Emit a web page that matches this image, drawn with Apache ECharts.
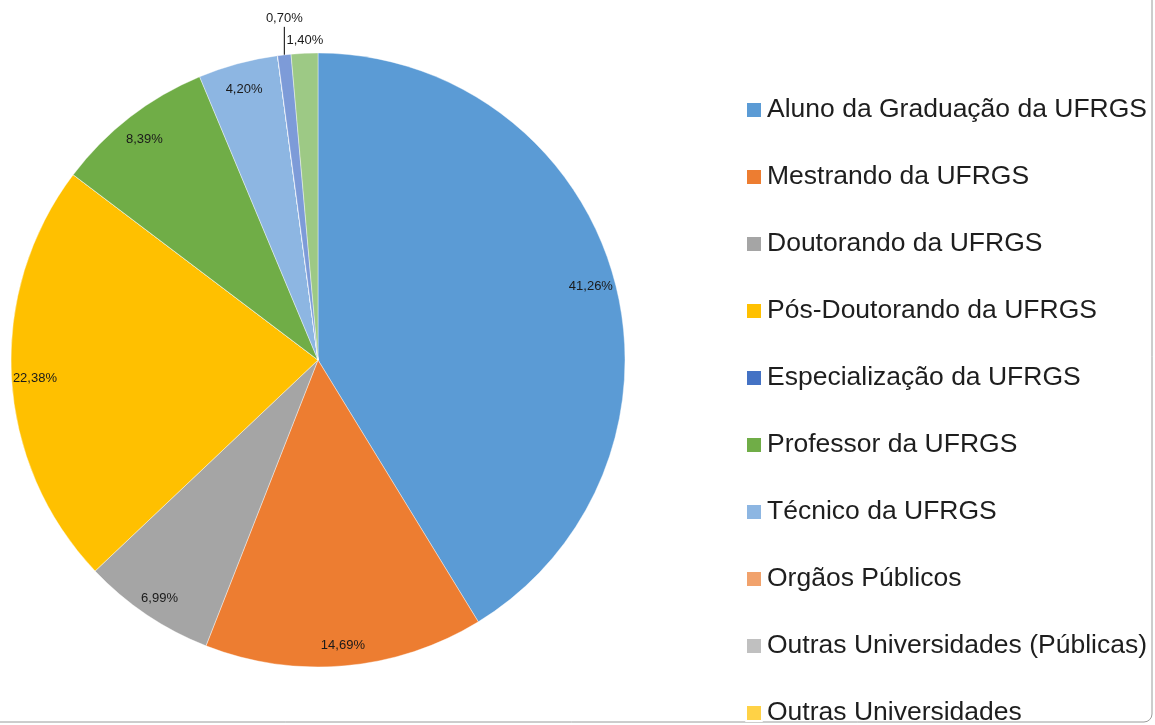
<!DOCTYPE html>
<html>
<head>
<meta charset="utf-8">
<script src="https://cdn.jsdelivr.net/npm/echarts@6/dist/echarts.min.js"></script>
<style>html,body{margin:0;padding:0;background:#fff;}#c{width:1155px;height:725px;}</style>
</head>
<body>
<div id="c"></div>
<script>
const categories = [
  'Aluno da Graduação da UFRGS',
  'Mestrando da UFRGS',
  'Doutorando da UFRGS',
  'Pós-Doutorando da UFRGS',
  'Especialização da UFRGS',
  'Professor da UFRGS',
  'Técnico da UFRGS',
  'Orgãos Públicos',
  'Outras Universidades (Públicas)',
  'Outras Universidades',
  'Outros',
  'Externos'
];
const values = [41.26, 14.69, 6.99, 22.38, 0, 8.39, 4.20, 0, 0, 0, 0.70, 1.40];
const colors = ['#5B9BD5','#ED7D31','#A5A5A5','#FFC000','#4472C4','#70AD47','#8DB6E2','#F1A26C','#C0C0C0','#FFD246','#7D9BD8','#9DC985'];
const legendVisible = categories.slice(0, 10);

const fmt = v => v.toFixed(2).replace('.', ',') + '%';

const pieData = categories.map((n, i) => ({ name: n, value: values[i], itemStyle: { color: colors[i] } }));
const labelData = categories.map((n, i) => {
  const v = values[i];
  const item = { name: n, value: v };
  if (v === 0) {
    item.label = { show: false };
    item.labelLine = { show: false };
  } else if (v < 2) {
    item.label = { show: true, position: 'outside' };
    item.labelLine = { show: v < 1, length: 28, length2: 0, lineStyle: { color: '#000', width: 1 } };
  }
  return item;
});

const chart = echarts.init(document.getElementById('c'), null, { renderer: 'canvas' });
chart.setOption({
  animation: false,
  backgroundColor: '#fff',
  textStyle: { fontFamily: 'Liberation Sans, Arial, sans-serif' },
  legend: {
    orient: 'vertical',
    left: 745,
    top: 95,
    height: 1200,
    padding: 0,
    itemWidth: 16,
    itemHeight: 16,
    itemGap: 37,
    icon: 'rect',
    selectedMode: false,
    data: legendVisible,
    textStyle: { fontSize: 26.5, lineHeight: 30, color: '#1e1e1e', fontFamily: 'Liberation Sans, Arial, sans-serif' }
  },
  graphic: [{
    type: 'rect',
    silent: true,
    shape: { x: -10, y: -10, width: 1162, height: 732, r: 8 },
    style: { fill: 'none', stroke: '#9a9a9a', lineWidth: 1 }
  }],
  series: [
    {
      type: 'pie',
      center: [318, 360],
      radius: [0, 307],
      startAngle: 90,
      clockwise: true,
      silent: true,
      label: { show: false },
      labelLine: { show: false },
      itemStyle: { borderColor: '#ffffff', borderWidth: 0.4 },
      data: pieData
    },
    {
      type: 'pie',
      center: [318, 360],
      radius: [254, 307],
      startAngle: 90,
      clockwise: true,
      silent: true,
      itemStyle: { color: 'rgba(0,0,0,0)', borderWidth: 0 },
      label: {
        show: true,
        position: 'inside',
        offset: [0, 3],
        formatter: p => fmt(p.value),
        fontSize: 13,
        color: '#1a1a1a',
        fontFamily: 'Liberation Sans, Arial, sans-serif'
      },
      labelLine: { show: false },
      labelLayout: function (p) {
        const v = values[p.dataIndex];
        if (v === 0 || v >= 2 || !p.labelLinePoints) return {};
        const a = p.labelLinePoints[0];
        if (v < 1) {
          return {
            x: a[0], y: a[1] - 36, align: 'center', verticalAlign: 'middle',
            labelLinePoints: [[a[0], a[1] + 2], [a[0], a[1] - 28], [a[0], a[1] - 28]]
          };
        }
        return { x: a[0] - 18, y: a[1] - 13, align: 'left', verticalAlign: 'middle' };
      },
      data: labelData
    }
  ]
});
</script>
</body>
</html>
